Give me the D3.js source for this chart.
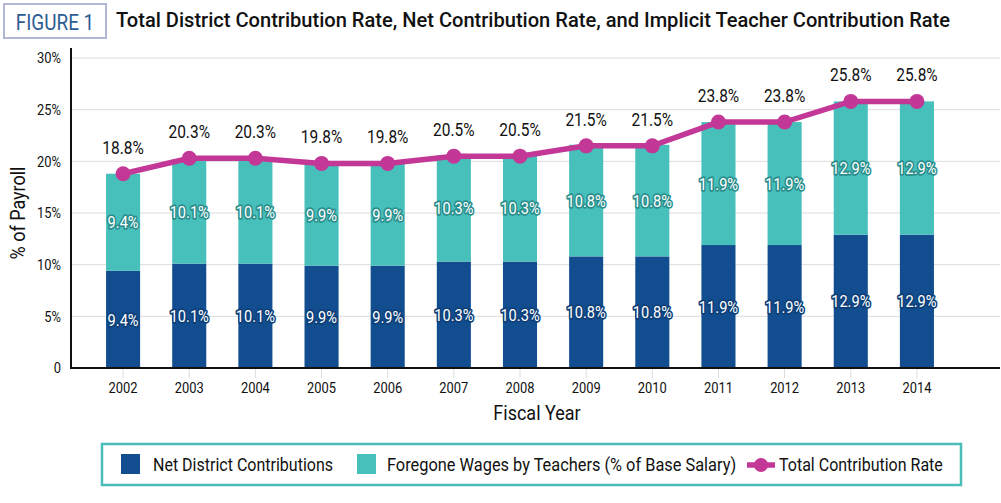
<!DOCTYPE html>
<html><head><meta charset="utf-8">
<script src="https://cdn.jsdelivr.net/npm/d3@7"></script>
<style>
body{margin:0;background:#fff;}
text{font-family:"Roboto",sans-serif;}
</style></head>
<body><svg id="c" width="1001" height="503"></svg>
<script>
const years = ["2002","2003","2004","2005","2006","2007","2008","2009","2010","2011","2012","2013","2014"];
const netDistrict = [9.4,10.1,10.1,9.9,9.9,10.3,10.3,10.8,10.8,11.9,11.9,12.9,12.9];
const foregoneWages = [9.4,10.1,10.1,9.9,9.9,10.3,10.3,10.8,10.8,11.9,11.9,12.9,12.9];
const totalRate = [18.8,20.3,20.3,19.8,19.8,20.5,20.5,21.5,21.5,23.8,23.8,25.8,25.8];
const yTicks = [0,5,10,15,20,25,30];
const seriesNames = ["Net District Contributions","Foregone Wages by Teachers (% of Base Salary)","Total Contribution Rate"];

const C_NET="#124e8f", C_FOR="#47bfbb", C_TOT="#c33797";
const svg=d3.select("#c");
const x=d3.scaleBand().domain(years).range([90,950]).paddingInner(0.485).paddingOuter(0.2425);
const y=d3.scaleLinear().domain([0,30]).range([368,58]);
const X0=71, X1=1000;
const SX=0.86; // horizontal condensing for condensed-looking type
const LSX=0.915;

// title
svg.append("rect").attr("x",4).attr("y",4).attr("width",102).attr("height",34).attr("fill","#fff").attr("stroke","#b3b7d6").attr("stroke-width",2);
svg.append("g").attr("transform","translate(55,30) scale(0.86,1)")
 .append("text").attr("x",0).attr("y",0).attr("text-anchor","middle").attr("fill","#2c5c93").attr("font-size",22).text("FIGURE 1");
svg.append("g").attr("transform","translate(116,27) scale(0.98,1)")
 .append("text").attr("x",0).attr("y",0).attr("fill","#111").attr("font-size",20.5).attr("font-weight","500").text("Total District Contribution Rate, Net Contribution Rate, and Implicit Teacher Contribution Rate");

// gridlines
svg.append("g").selectAll("line").data(yTicks.filter(d=>d>0)).join("line")
 .attr("x1",X0).attr("x2",X1).attr("y1",d=>y(d)).attr("y2",d=>y(d)).attr("stroke","#dcdcdc").attr("stroke-width",1);

// y axis tick labels
svg.append("g").selectAll("g").data(yTicks).join("g").attr("transform",d=>`translate(61,${y(d)}) scale(${SX},1)`)
 .append("text").attr("text-anchor","end").attr("dy","0.36em").attr("font-size",15).attr("fill","#111").text(d=>d===0?"0":d+"%");

// x ticks
const xa=svg.append("g").attr("transform",`translate(0,368)`).call(d3.axisBottom(x).tickSize(10).tickFormat(""));
xa.select(".domain").remove();
xa.selectAll("line").attr("stroke","#dcdcdc");
svg.append("g").selectAll("g").data(years).join("g").attr("transform",d=>`translate(${x(d)+x.bandwidth()/2},393) scale(${SX},1)`)
 .append("text").attr("text-anchor","middle").attr("font-size",15).attr("fill","#111").text(d=>d);

// bars
const stack=years.map((yr,i)=>({yr,net:netDistrict[i],fw:foregoneWages[i]}));
svg.append("g").selectAll("rect").data(stack).join("rect")
 .attr("x",d=>x(d.yr)).attr("width",x.bandwidth()).attr("y",d=>y(d.net)).attr("height",d=>y(0)-y(d.net)).attr("fill",C_NET);
svg.append("g").selectAll("rect").data(stack).join("rect")
 .attr("x",d=>x(d.yr)).attr("width",x.bandwidth()).attr("y",d=>y(d.net+d.fw)).attr("height",d=>y(d.net)-y(d.net+d.fw)).attr("fill",C_FOR);

// axes lines
svg.append("line").attr("x1",X0).attr("x2",X0).attr("y1",y(30)-10).attr("y2",369).attr("stroke","#111").attr("stroke-width",2);
svg.append("line").attr("x1",X0-1).attr("x2",X1).attr("y1",368).attr("y2",368).attr("stroke","#111").attr("stroke-width",2);

// inner labels
function inLabel(data,yf,col){
  svg.append("g").selectAll("g").data(data).join("g")
   .attr("transform",d=>`translate(${x(d.yr)+x.bandwidth()/2},${yf(d)}) scale(${SX},1)`)
   .append("text").attr("dy","0.36em")
   .attr("text-anchor","middle").attr("font-size",17).attr("fill","#fff").attr("stroke",col).attr("stroke-width",3.5).attr("stroke-linejoin","round").attr("paint-order","stroke")
   .text(d=>d.v.toFixed(1)+"%");
}
inLabel(stack.map(d=>({yr:d.yr,v:d.net})),d=>y(d.v/2),"#0e3f78");
inLabel(stack.map(d=>({yr:d.yr,v:d.fw,base:d.net})),d=>y(d.base+d.v/2),"#2a8e8b");

// line
const pts=years.map((yr,i)=>({yr,v:totalRate[i]}));
svg.append("path").datum(pts).attr("fill","none").attr("stroke",C_TOT).attr("stroke-width",5.5)
 .attr("d",d3.line().x(d=>x(d.yr)+x.bandwidth()/2).y(d=>y(d.v)));
svg.append("g").selectAll("circle").data(pts).join("circle").attr("cx",d=>x(d.yr)+x.bandwidth()/2).attr("cy",d=>y(d.v)).attr("r",7.5).attr("fill",C_TOT);
svg.append("g").selectAll("g").data(pts).join("g").attr("transform",d=>`translate(${x(d.yr)+x.bandwidth()/2},${y(d.v)-20}) scale(${SX},1)`)
 .append("text").attr("text-anchor","middle").attr("font-size",18).attr("fill","#111").text(d=>d.v.toFixed(1)+"%");

// axis titles
svg.append("g").attr("transform","translate(25,213) rotate(-90) scale(0.9,1)")
 .append("text").attr("text-anchor","middle").attr("font-size",20).attr("fill","#111").text("% of Payroll");
svg.append("g").attr("transform","translate(537,420) scale(0.9,1)")
 .append("text").attr("text-anchor","middle").attr("font-size",20).attr("fill","#111").text("Fiscal Year");

// legend
svg.append("rect").attr("x",102).attr("y",444).attr("width",859).attr("height",41).attr("fill","#fff").attr("stroke","#4bbdb9").attr("stroke-width",2.5);
const lg=svg.append("g");
lg.append("rect").attr("x",121).attr("y",454).attr("width",19).attr("height",20).attr("fill",C_NET);
lg.append("g").attr("transform",`translate(153,471) scale(${LSX},1)`).append("text").attr("font-size",17.5).attr("fill","#111").text(seriesNames[0]);
lg.append("rect").attr("x",357).attr("y",454).attr("width",19).attr("height",20).attr("fill",C_FOR);
lg.append("g").attr("transform",`translate(387,471) scale(0.935,1)`).append("text").attr("font-size",17.5).attr("fill","#111").text(seriesNames[1]);
lg.append("line").attr("x1",747).attr("x2",775).attr("y1",465).attr("y2",465).attr("stroke",C_TOT).attr("stroke-width",5.5);
lg.append("circle").attr("cx",761).attr("cy",465).attr("r",7).attr("fill",C_TOT);
lg.append("g").attr("transform",`translate(779,471) scale(${LSX},1)`).append("text").attr("font-size",17.5).attr("fill","#111").text(seriesNames[2]);
</script></body></html>
